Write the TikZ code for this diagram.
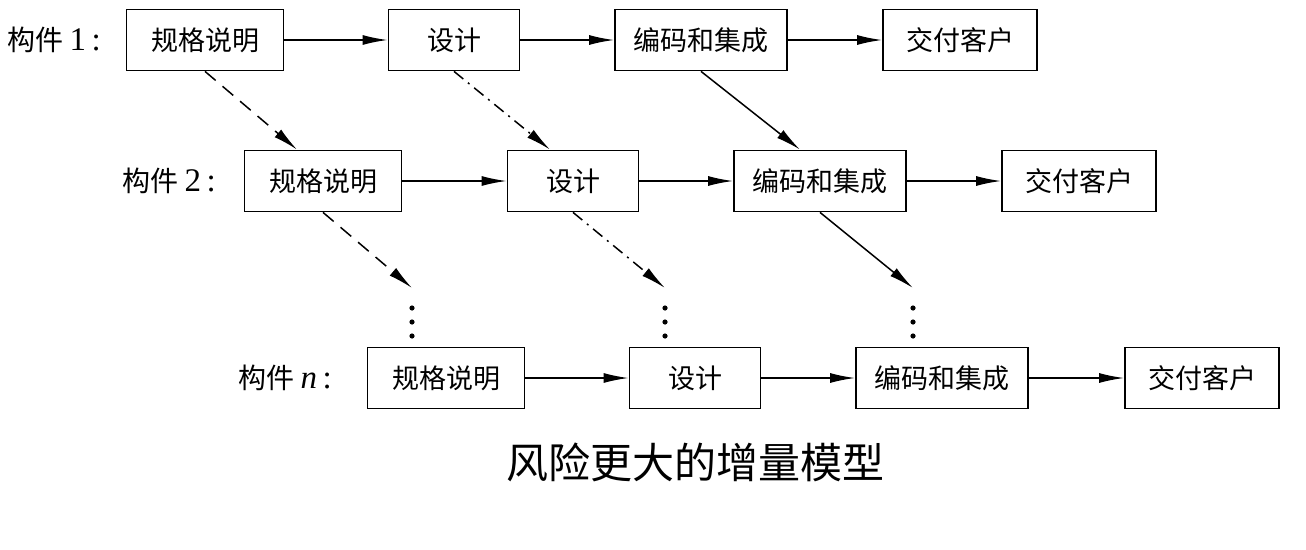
\documentclass[tikz,border=0pt]{standalone}
\usepackage{fontspec}
\setmainfont{Liberation Serif}
\newfontfamily\cjk{Noto Sans CJK SC}
\newcommand{\buildname}{{\cjk\fontsize{28}{30}\selectfont 构件}\hspace{6pt}}
\usetikzlibrary{arrows.meta}

\begin{document}
\begin{tikzpicture}[x=1pt, y=-1pt, >={Latex[length=25pt, width=10pt]},
    box/.style={draw, line width=1.8pt, minimum height=61pt, inner sep=0pt, font=\cjk\fontsize{27}{30}\selectfont},
    spec/.style={box, minimum width=157pt},
    dsgn/.style={box, minimum width=131pt},
    code/.style={box, minimum width=172pt},
    dlvr/.style={box, minimum width=154pt},
    lbl/.style={anchor=east, inner sep=0pt, font=\fontsize{33}{36}\selectfont},
    flow/.style={->, line width=1.5pt}]
    \useasboundingbox (0,0) rectangle (1306,549);

    % build 1
    \path (101, 40) node[lbl] (l1) {\buildname 1\,:};
    \path (205, 40) node[spec] (s1) {规格说明};
    \path (454, 40) node[dsgn] (d1) {设计};
    \path (701, 40) node[code] (c1) {编码和集成};
    \path (960, 40) node[dlvr] (j1) {交付客户};

    % build 2
    \path (216, 181) node[lbl] (l2) {\buildname 2\,:};
    \path (323, 181) node[spec] (s2) {规格说明};
    \path (573, 181) node[dsgn] (d2) {设计};
    \path (820, 181) node[code] (c2) {编码和集成};
    \path (1079, 181) node[dlvr] (j2) {交付客户};

    % build n
    \path (332, 378) node[lbl] (l3) {\buildname \textit{n}\,:};
    \path (446, 378) node[spec] (s3) {规格说明};
    \path (695, 378) node[dsgn] (d3) {设计};
    \path (942, 378) node[code] (c3) {编码和集成};
    \path (1202, 378) node[dlvr] (j3) {交付客户};

    \draw[flow] (s1) -- (d1);
    \draw[flow] (d1) -- (c1);
    \draw[flow] (c1) -- (j1);
    \draw[flow] (s2) -- (d2);
    \draw[flow] (d2) -- (c2);
    \draw[flow] (c2) -- (j2);
    \draw[flow] (s3) -- (d3);
    \draw[flow] (d3) -- (c3);
    \draw[flow] (c3) -- (j3);

    % overlap between builds
    \coordinate (v1) at (412, 288);
    \coordinate (v2) at (665, 288);
    \coordinate (v3) at (913, 288);
    \draw[flow, dash pattern=on 14pt off 9pt] (s1.south) -- ([xshift=-26pt]s2.north);
    \draw[flow, dash pattern=on 12pt off 6pt on 2pt off 6pt] (d1.south) -- ([xshift=-23pt]d2.north);
    \draw[flow] (c1.south) -- ([xshift=-20pt]c2.north);
    \draw[flow, dash pattern=on 14pt off 9pt] (s2.south) -- (v1);
    \draw[flow, dash pattern=on 12pt off 6pt on 2pt off 6pt] (d2.south) -- (v2);
    \draw[flow] (c2.south) -- (v3);
    \foreach \x in {412, 665, 913}
        \foreach \y in {308, 322, 336}
            \fill (\x, \y) circle (2.6pt);

    \path (695, 462) node[font=\cjk\fontsize{42}{48}\selectfont] (title) {风险更大的增量模型};
\end{tikzpicture}
\end{document}
